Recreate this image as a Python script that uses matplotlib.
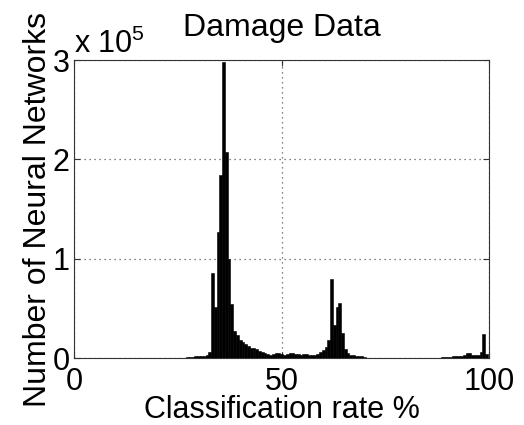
import numpy as np
import matplotlib
matplotlib.use("Agg")
import matplotlib.pyplot as plt
from matplotlib.ticker import FuncFormatter

plt.rcParams['font.family'] = ['Liberation Sans', 'DejaVu Sans']
plt.rcParams['mathtext.fontset'] = 'custom'
plt.rcParams['mathtext.rm'] = 'Liberation Sans'
plt.rcParams['mathtext.it'] = 'Liberation Sans'

# ---- data (histogram of classification rates) ----
title = "Damage Data"
x_label = "Classification rate %"
y_label = "Number of Neural Networks"
x_ticks = [0, 50, 100]
y_ticks = [0, 1e5, 2e5, 3e5]

n_bins = 150            # histogram bins over 0..100 %
first_bin = 40          # index of first listed bin
# counts per bin (in units of 1e5 networks), bins 40..149
counts_1e5 = [
    0.0, 0.01, 0.015, 0.015, 0.02, 0.02, 0.02, 0.025, 0.03, 0.06,      # 40-49
    0.86, 0.52, 1.27, 1.84, 2.98, 2.07, 1.00, 0.55, 0.27, 0.23,        # 50-59
    0.18, 0.16, 0.14, 0.12, 0.10, 0.10, 0.09, 0.07, 0.06, 0.05,        # 60-69
    0.04, 0.03, 0.04, 0.05, 0.05, 0.04, 0.035, 0.04, 0.05, 0.05,       # 70-79
    0.045, 0.04, 0.035, 0.045, 0.04, 0.035, 0.03, 0.035, 0.04, 0.06,   # 80-89
    0.08, 0.11, 0.18, 0.80, 0.33, 0.52, 0.56, 0.25, 0.09, 0.05,        # 90-99
    0.035, 0.03, 0.025, 0.02, 0.02, 0.012, 0.006, 0.005, 0.005, 0.004, # 100-109
    0.004, 0.003, 0.003, 0.003, 0.003, 0.003, 0.003, 0.003, 0.003, 0.003,  # 110-119
    0.003, 0.003, 0.003, 0.003, 0.003, 0.004, 0.004, 0.004, 0.005, 0.005,  # 120-129
    0.006, 0.006, 0.008, 0.01, 0.012, 0.015, 0.015, 0.02, 0.02, 0.025,     # 130-139
    0.025, 0.035, 0.05, 0.055, 0.035, 0.03, 0.035, 0.06, 0.24, 0.04,       # 140-149
]

bin_width = 100.0 / n_bins
rates = (first_bin + np.arange(len(counts_1e5))) * bin_width
counts = np.array(counts_1e5) * 1e5

# ---- figure ----
W, H = 524, 425
fig = plt.figure(figsize=(W / 100, H / 100), dpi=100)
ax = fig.add_axes([74 / W, 1 - 358.3 / H, (489.3 - 74) / W, (358.3 - 60) / H])

ax.bar(rates, counts, width=bin_width, color='black', edgecolor='black',
       linewidth=0.4, zorder=3)

ax.set_xlim(0, 100)
ax.set_ylim(0, 3e5)
ax.set_xticks(x_ticks)
ax.set_yticks(y_ticks)
ax.yaxis.set_major_formatter(FuncFormatter(lambda v, p: f"{v / 1e5:g}"))

ax.grid(True, color='0.35', linestyle=(0, (1, 3)), linewidth=0.9, zorder=1)
ax.set_axisbelow(True)

for s in ax.spines.values():
    s.set_color('0.2')
    s.set_linewidth(0.8)

ax.tick_params(direction='in', length=4, width=0.8, color='0.2',
               top=True, right=True, labelsize=22)
ax.tick_params(axis='x', pad=6.5)
ax.tick_params(axis='y', pad=3)

ax.set_title(title, fontsize=23, pad=17)
ax.set_xlabel(x_label, fontsize=22, labelpad=-1.5)
ax.set_ylabel(y_label, fontsize=23, labelpad=0)

ax.text(0.0, 1.0, r"x 10$^{5}$", transform=ax.transAxes, fontsize=22,
        ha='left', va='bottom')

fig.savefig("out.png", dpi=100)
